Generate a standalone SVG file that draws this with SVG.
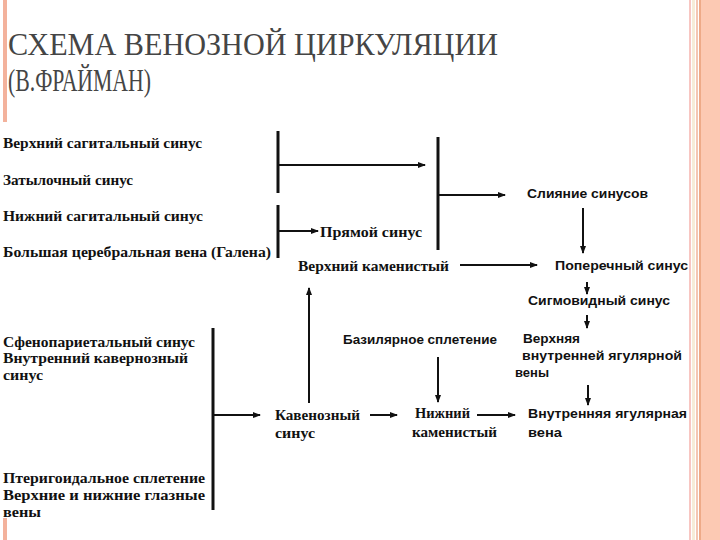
<svg xmlns="http://www.w3.org/2000/svg" width="720" height="540" viewBox="0 0 720 540">
<style>
.t{font-family:'Liberation Serif','DejaVu Serif',serif;font-weight:bold;font-size:14px;fill:#111}
.s{font-family:'Liberation Sans','DejaVu Sans',sans-serif;font-weight:bold;font-size:12px;fill:#111}
.title{font-family:'Liberation Serif','DejaVu Serif',serif;font-size:32px;fill:#454545}
.bar{stroke:#111;stroke-width:3;fill:none}
.ln{stroke:#111;stroke-width:2;fill:none;marker-end:url(#ah)}
</style>
<defs>
<marker id="ah" markerWidth="8" markerHeight="6" refX="7" refY="3" orient="auto" markerUnits="userSpaceOnUse">
<path d="M0,0 L8,3 L0,6 Z" fill="#111"/>
</marker>
</defs>
<rect width="720" height="540" fill="#fff"/>
<g id="frame">
<rect x="3" y="0" width="4" height="122" fill="#f3b29c"/>
<rect x="3" y="518" width="4" height="22" fill="#f3b29c"/>
<rect x="689" y="0" width="2" height="540" fill="#f8c6c2"/>
<rect x="692" y="0" width="3" height="540" fill="#f6ecd8"/>
<rect x="696" y="0" width="2" height="540" fill="#f4c6b2"/>
<rect x="699" y="0" width="2" height="540" fill="#eeaa88"/>
<rect x="701" y="0" width="19" height="540" fill="#fcc9b3"/>
</g>
<g id="title">
<text class="title" x="8" y="55" textLength="490" lengthAdjust="spacingAndGlyphs">СХЕМА ВЕНОЗНОЙ ЦИРКУЛЯЦИИ</text>
<text class="title" x="8" y="91" textLength="143" lengthAdjust="spacingAndGlyphs">(В.ФРАЙМАН)</text>
</g>
<g id="connectors">
<line class="bar" x1="278" y1="131" x2="278" y2="193"/>
<line class="ln" x1="278" y1="165" x2="425" y2="165"/>
<line class="bar" x1="278" y1="205" x2="278" y2="258"/>
<line class="ln" x1="278" y1="231" x2="318" y2="231"/>
<line class="bar" x1="438" y1="137" x2="438" y2="250"/>
<line class="ln" x1="438" y1="195" x2="505" y2="195"/>
<line class="ln" x1="583" y1="208" x2="583" y2="253"/>
<line class="ln" x1="460" y1="265" x2="537" y2="265"/>
<line class="ln" x1="587" y1="282" x2="587" y2="294"/>
<line class="ln" x1="587" y1="315" x2="587" y2="328"/>
<line class="ln" x1="438" y1="357" x2="438" y2="402"/>
<line class="ln" x1="588" y1="385" x2="588" y2="405"/>
<line class="ln" x1="309" y1="403" x2="309" y2="288"/>
<line class="bar" x1="213" y1="328" x2="213" y2="510"/>
<line class="ln" x1="213" y1="415" x2="260" y2="415"/>
<line class="ln" x1="370" y1="415" x2="397" y2="415"/>
<line class="ln" x1="477" y1="415" x2="515" y2="415"/>
</g>
<g id="n-sup-sag"><text class="t" x="3" y="148" textLength="199" lengthAdjust="spacingAndGlyphs">Верхний сагитальный синус</text></g>
<g id="n-occ"><text class="t" x="3" y="185" textLength="130" lengthAdjust="spacingAndGlyphs">Затылочный синус</text></g>
<g id="n-inf-sag"><text class="t" x="3" y="221" textLength="200" lengthAdjust="spacingAndGlyphs">Нижний сагитальный синус</text></g>
<g id="n-galen"><text class="t" x="3" y="257" textLength="268" lengthAdjust="spacingAndGlyphs">Большая церебральная вена (Галена)</text></g>
<g id="n-straight"><text class="t" x="320" y="237" textLength="102" lengthAdjust="spacingAndGlyphs">Прямой синус</text></g>
<g id="n-confl"><text class="s" x="527" y="198" textLength="121" lengthAdjust="spacingAndGlyphs">Слияние синусов</text></g>
<g id="n-sup-pet"><text class="t" x="298" y="271" textLength="151" lengthAdjust="spacingAndGlyphs">Верхний каменистый</text></g>
<g id="n-transv"><text class="s" x="555" y="270" textLength="133" lengthAdjust="spacingAndGlyphs">Поперечный синус</text></g>
<g id="n-sigm"><text class="s" x="528" y="305" textLength="142" lengthAdjust="spacingAndGlyphs">Сигмовидный синус</text></g>
<g id="n-basil"><text class="s" x="343" y="344" textLength="154" lengthAdjust="spacingAndGlyphs">Базилярное сплетение</text></g>
<g id="n-bulb">
<text class="s" x="523" y="343" textLength="57" lengthAdjust="spacingAndGlyphs">Верхняя</text>
<text class="s" x="522" y="360" textLength="160" lengthAdjust="spacingAndGlyphs">внутренней ягулярной</text>
<text class="s" x="515" y="377" textLength="34" lengthAdjust="spacingAndGlyphs">вены</text>
</g>
<g id="n-spheno">
<text class="t" x="3" y="347" textLength="192" lengthAdjust="spacingAndGlyphs">Сфенопариетальный синус</text>
<text class="t" x="3" y="363" textLength="185" lengthAdjust="spacingAndGlyphs">Внутренний кавернозный</text>
<text class="t" x="3" y="380" textLength="40" lengthAdjust="spacingAndGlyphs">синус</text>
</g>
<g id="n-cav">
<text class="t" x="275" y="420" textLength="85" lengthAdjust="spacingAndGlyphs">Кавенозный</text>
<text class="t" x="275" y="438" textLength="40" lengthAdjust="spacingAndGlyphs">синус</text>
</g>
<g id="n-inf-pet">
<text class="t" x="415" y="418" textLength="55" lengthAdjust="spacingAndGlyphs">Нижний</text>
<text class="t" x="412" y="437" textLength="85" lengthAdjust="spacingAndGlyphs">каменистый</text>
</g>
<g id="n-ijv">
<text class="s" x="528" y="418" textLength="159" lengthAdjust="spacingAndGlyphs">Внутренняя ягулярная</text>
<text class="s" x="528" y="437" textLength="34" lengthAdjust="spacingAndGlyphs">вена</text>
</g>
<g id="n-pteryg">
<text class="t" x="3" y="483" textLength="202" lengthAdjust="spacingAndGlyphs">Птеригоидальное сплетение</text>
<text class="t" x="3" y="500" textLength="202" lengthAdjust="spacingAndGlyphs">Верхние и нижние глазные</text>
<text class="t" x="3" y="517" textLength="38" lengthAdjust="spacingAndGlyphs">вены</text>
</g>
</svg>
